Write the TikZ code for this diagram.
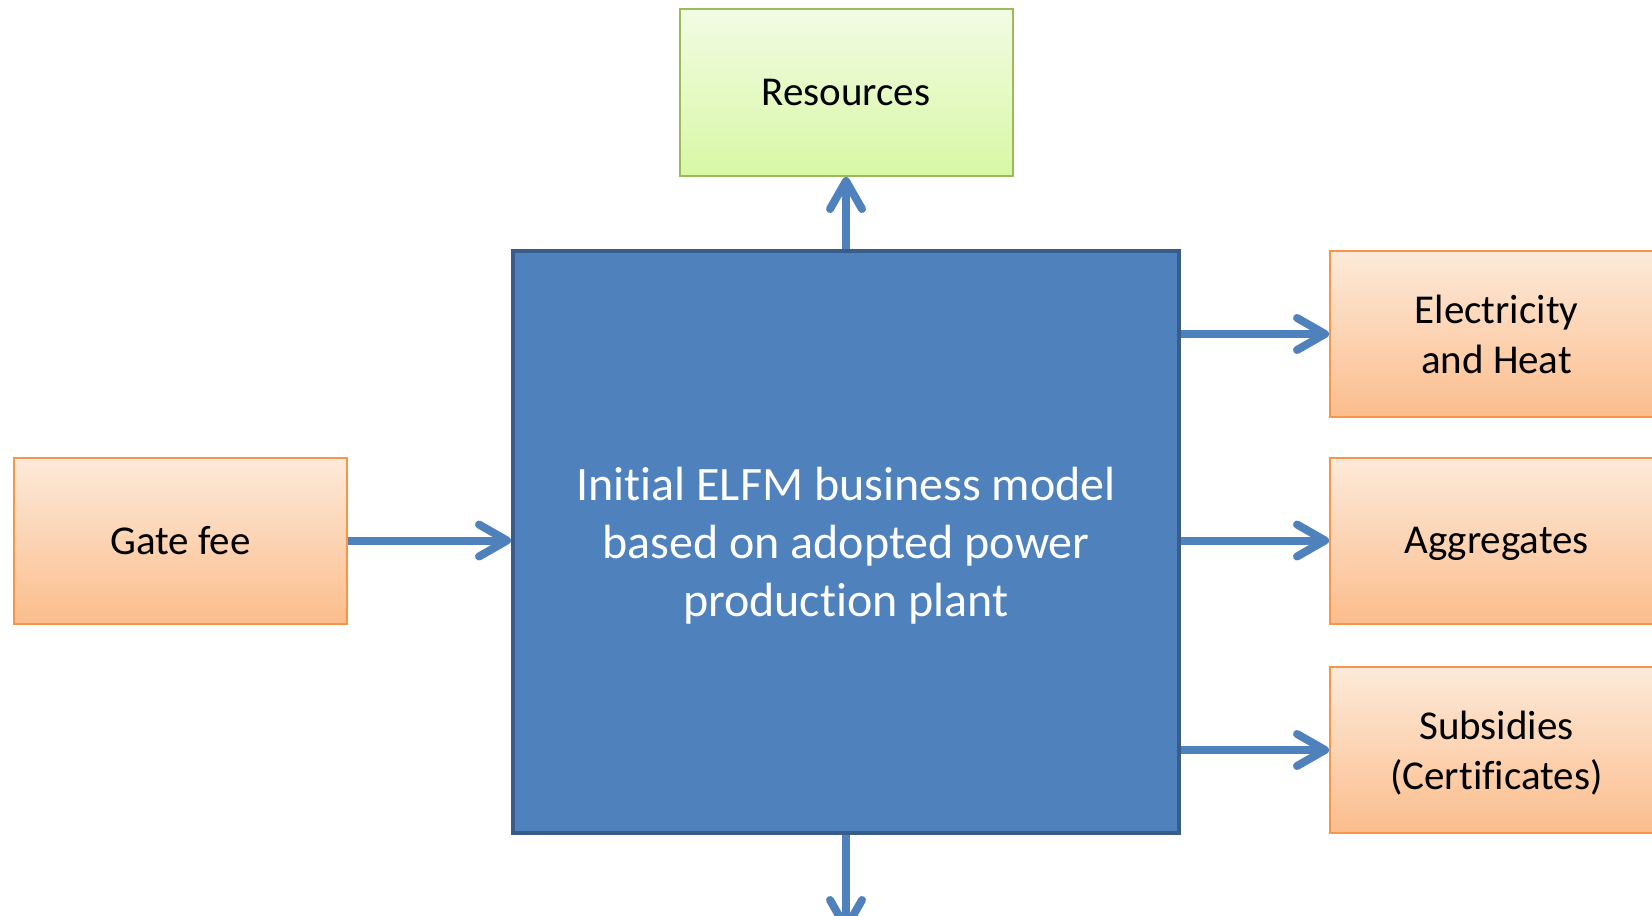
\documentclass[tikz,border=0pt]{standalone}
\usepackage{fontspec}
\setmainfont{Carlito}[Ligatures=NoCommon]
\usepackage{xcolor}
\usepackage{tikz}
\usetikzlibrary{arrows.meta}
\definecolor{plantblue}{HTML}{4F81BD}
\definecolor{plantedge}{HTML}{385D8A}
\definecolor{orangetop}{HTML}{FDEADA}
\definecolor{orangebot}{HTML}{FBBD8C}
\definecolor{orangeedge}{HTML}{F79646}
\definecolor{greentop}{HTML}{F2FBE4}
\definecolor{greenbot}{HTML}{D8F8A4}
\definecolor{greenedge}{HTML}{9BBB59}
\tikzset{
    plant/.style={rectangle, fill=plantblue, draw=plantedge, line width=2pt, minimum width=333pt, minimum height=291pt, text=white, align=center, text depth=0pt, font=\fontsize{24}{29}\selectfont},
    income/.style={rectangle, top color=orangetop, bottom color=orangebot, draw=orangeedge, line width=1pt, minimum width=166.5pt, minimum height=83pt, align=center, text depth=0pt, font=\fontsize{20.5}{25}\selectfont},
    resource/.style={income, top color=greentop, bottom color=greenbot, draw=greenedge, minimum height=83.5pt},
    flow/.style={draw=plantblue, line width=4pt, -{Straight Barb[length=14pt, width=16pt, round]}}
}

\begin{document}
\begin{tikzpicture}[x=0.5pt, y=-0.5pt]
    \useasboundingbox (0,0) rectangle (1652,915);
    \node[resource] (res) at (846,92.5) {Resources};
    \node[plant] (plant) at (846,542) {Initial ELFM business model\\based on adopted power\\production plant};
    \node[income] (gate) at (180.5,540.5) {Gate fee};
    \node[income] (elec) at (1496.5,334) {Electricity\\and Heat};
    \node[income] (aggr) at (1496.5,540.5) {Aggregates};
    \node[income] (subs) at (1496.5,750) {Subsidies\\(Certificates)};
    \coordinate (sink) at (846,932);
    \draw[flow] (plant.north) -- (res.south);
    \draw[flow] (gate.east) -- (plant.west |- gate.east);
    \draw[flow] (plant.east |- elec.west) -- (elec.west);
    \draw[flow] (plant.east |- aggr.west) -- (aggr.west);
    \draw[flow] (plant.east |- subs.west) -- (subs.west);
    \draw[flow] (plant.south) -- (sink);
\end{tikzpicture}
\end{document}
